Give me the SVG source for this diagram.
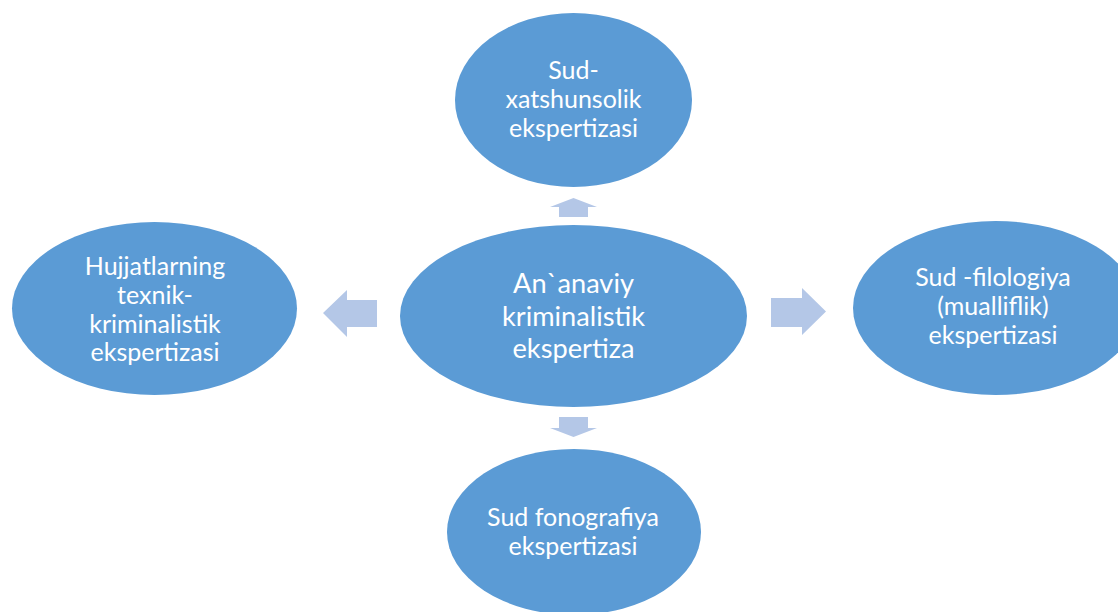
<svg xmlns="http://www.w3.org/2000/svg" width="1118" height="612" viewBox="0 0 1118 612">
<style>
.node ellipse{fill:#5B9BD5;}
.node text{fill:#FFFFFF;font-family:Lato,"Liberation Sans",sans-serif;text-anchor:middle;font-size:25px;}
.node.main text{font-size:27.2px;}
.arrows polygon{fill:#B4C7E7;}
</style>
<rect width="1118" height="612" fill="#FFFFFF"/>
<g id="connectors" class="arrows">
<polygon id="arrow-up" points="573.5,198 597,207 588,207 588,217 559,217 559,207 550,207"/>
<polygon id="arrow-down" points="559,417 588,417 588,428 597,428 573.5,437 550,428 559,428"/>
<polygon id="arrow-left" points="323,313 347,290 347,300 377,300 377,327 347,327 347,337"/>
<polygon id="arrow-right" points="771,298 802,298 802,288 826,311.5 802,335 802,327 771,327"/>
</g>
<g id="node-center" class="node main">
<ellipse cx="573.5" cy="316" rx="173.5" ry="91"/>
<text x="573.5" y="293">An`anaviy</text>
<text x="573.5" y="325.5">kriminalistik</text>
<text x="573.5" y="358">ekspertiza</text>
</g>
<g id="node-top" class="node">
<ellipse cx="573.5" cy="100" rx="118.5" ry="87"/>
<text x="573.5" y="79">Sud-</text>
<text x="573.5" y="108">xatshunsolik</text>
<text x="573.5" y="137">ekspertizasi</text>
</g>
<g id="node-left" class="node">
<ellipse cx="154.5" cy="308.5" rx="142.5" ry="86.5"/>
<text x="155" y="275">Hujjatlarning</text>
<text x="155" y="304">texnik-</text>
<text x="155" y="332.5">kriminalistik</text>
<text x="155" y="361">ekspertizasi</text>
</g>
<g id="node-right" class="node">
<ellipse cx="995.5" cy="308" rx="142.5" ry="87"/>
<text x="993" y="286">Sud -filologiya</text>
<text x="993" y="315">(mualliflik)</text>
<text x="993" y="344">ekspertizasi</text>
</g>
<g id="node-bottom" class="node">
<ellipse cx="574" cy="532" rx="127" ry="83"/>
<text x="573" y="526">Sud fonografiya</text>
<text x="573" y="555">ekspertizasi</text>
</g>
</svg>
